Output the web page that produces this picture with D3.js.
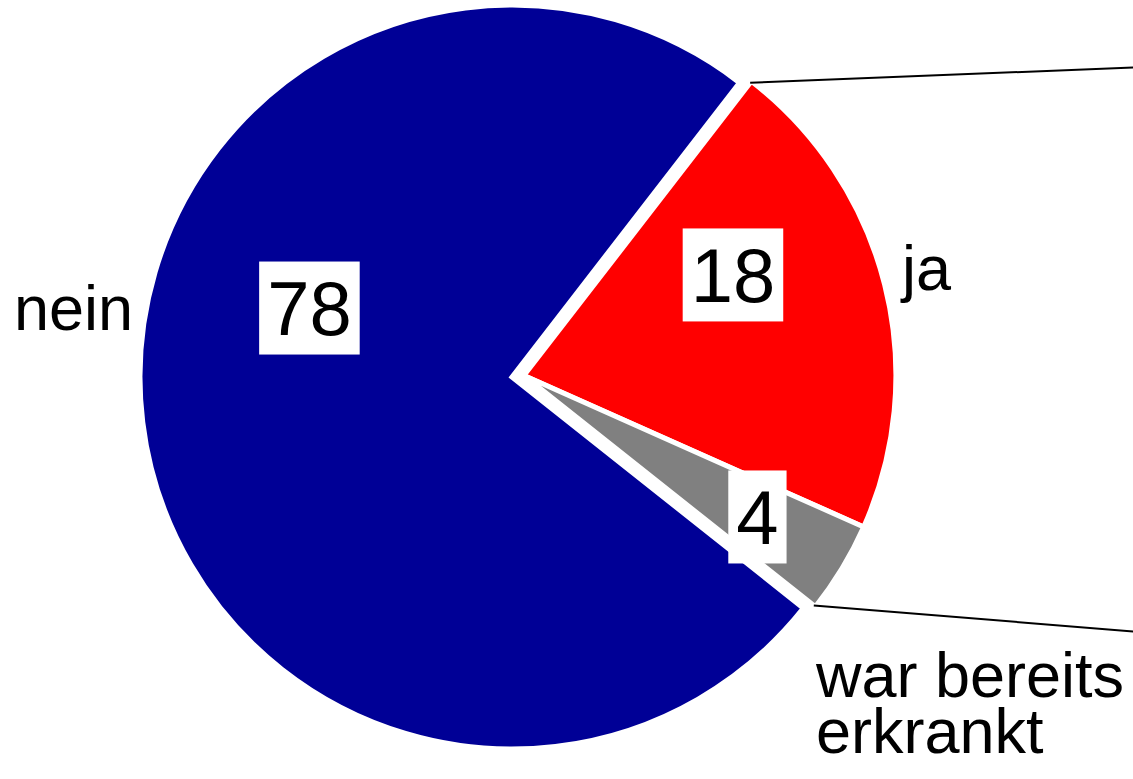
<!DOCTYPE html>
<html>
<head>
<meta charset="utf-8">
<script src="https://cdn.jsdelivr.net/npm/d3@7"></script>
<style>
  body { margin: 0; background: #fff; }
  svg { display: block; font-family: "Liberation Sans", Arial, sans-serif; }
</style>
</head>
<body>
<div id="chart"></div>
<script>
// categories in drawing order (clockwise from the ja slice)
var categories = ["ja", "war bereits erkrankt", "nein"];
// printed values in the boxes
var labelValues = [18, 4, 78];
// slice sizes as drawn (they do not match the printed numbers exactly)
var shares = [21.2, 4.0, 74.8];
var colors = ["#ff0000", "#808080", "#000096"];
// ja + war bereits erkrankt are pulled out together
var exploded = [true, true, false];

var svgWidth = 1133;
var svgHeight = 779;

var cx = 512, cy = 377;
var radius = 372;
var explode = 12;
var startDeg = 37.7;

var svg = d3.select("#chart")
  .append("svg")
  .attr("width", svgWidth)
  .attr("height", svgHeight);

var pie = d3.pie()
  .sort(null)
  .value(d => d)
  .startAngle(startDeg * Math.PI / 180)
  .endAngle(startDeg * Math.PI / 180 + 2 * Math.PI);

var arcs = pie(shares);

var arc = d3.arc()
  .innerRadius(0)
  .outerRadius(radius);

// direction the exploded group is moved in
var groupStart = arcs[0].startAngle;
var groupEnd = arcs[1].endAngle;
var groupMid = (groupStart + groupEnd) / 2;
var ox = Math.sin(groupMid) * explode;
var oy = -Math.cos(groupMid) * explode;

var pieGroup = svg.append("g")
  .attr("transform", `translate(${cx}, ${cy})`);

pieGroup.selectAll("path")
  .data(arcs)
  .enter()
  .append("path")
  .attr("d", arc)
  .attr("transform", (d, i) => exploded[i] ? `translate(${ox}, ${oy})` : null)
  .attr("fill", (d, i) => colors[i])
  .attr("stroke", "#fff")
  .attr("stroke-width", 5)
  .attr("stroke-linejoin", "miter");

// connector lines towards the second pie (off to the right)
var rEdge = radius - 2;
var p1 = [cx + ox + Math.sin(groupStart) * rEdge, cy + oy - Math.cos(groupStart) * rEdge];
var p2 = [cx + ox + Math.sin(groupEnd) * rEdge, cy + oy - Math.cos(groupEnd) * rEdge];
var slopeTop = -0.04, slopeBottom = 0.0815;
var xFar = svgWidth + 10;

svg.append("line")
  .attr("x1", p1[0]).attr("y1", p1[1])
  .attr("x2", xFar).attr("y2", p1[1] + slopeTop * (xFar - p1[0]))
  .attr("stroke", "#000").attr("stroke-width", 2);

svg.append("line")
  .attr("x1", p2[0]).attr("y1", p2[1])
  .attr("x2", xFar).attr("y2", p2[1] + slopeBottom * (xFar - p2[0]))
  .attr("stroke", "#000").attr("stroke-width", 2);

// value labels in white boxes (angle clockwise from top, distance from the slice tip)
var valuePos = [
  { a: 64.3, r: 232 },   // 18
  { a: 121.2, r: 273 },  // 4
  { a: -71.2, r: 214 }   // 78
];
var numSize = 76;

var valueGroups = svg.selectAll("g.value")
  .data(arcs)
  .enter()
  .append("g")
  .attr("class", "value")
  .attr("transform", function(d, i) {
    var p = valuePos[i];
    var a = p.a * Math.PI / 180;
    var x = cx + Math.sin(a) * p.r + (exploded[i] ? ox : 0);
    var y = cy - Math.cos(a) * p.r + (exploded[i] ? oy : 0);
    return `translate(${x}, ${y})`;
  });

valueGroups.each(function(d, i) {
  var g = d3.select(this);
  var t = g.append("text")
    .attr("text-anchor", "middle")
    .attr("dy", "0.355em")
    .style("font-size", numSize + "px")
    .attr("fill", "#000")
    .text(labelValues[i]);
  var w = t.node().getComputedTextLength() + 16;
  var h = 93;
  g.insert("rect", "text")
    .attr("x", -w / 2)
    .attr("y", -h / 2)
    .attr("width", w)
    .attr("height", h)
    .attr("fill", "#fff");
});

// category labels
var catSize = 63;
var catLabels = [
  { lines: ["ja"], x: 902, y: 290 },
  { lines: ["war bereits", "erkrankt"], x: 816, y: 697 },
  { lines: ["nein"], x: 14, y: 330 }
];

catLabels.forEach(function(c) {
  var t = svg.append("text")
    .attr("x", c.x)
    .attr("y", c.y)
    .style("font-size", catSize + "px")
    .attr("fill", "#000");
  c.lines.forEach(function(line, k) {
    t.append("tspan")
      .attr("x", c.x)
      .attr("dy", k === 0 ? 0 : 56)
      .text(line);
  });
});
</script>
</body>
</html>
